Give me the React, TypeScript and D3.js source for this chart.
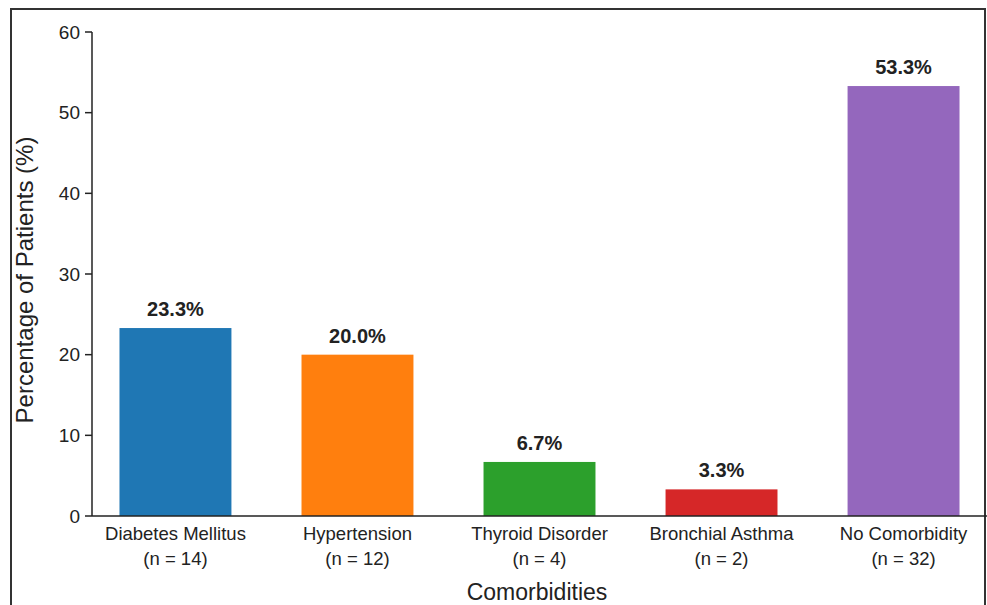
import React from "react";
import * as d3 from "d3";

const WIDTH = 987;
const HEIGHT = 605;

// chart data
const categories = ["Diabetes Mellitus", "Hypertension", "Thyroid Disorder", "Bronchial Asthma", "No Comorbidity"];
const counts = [14, 12, 4, 2, 32];
const percents = [23.3, 20.0, 6.7, 3.3, 53.3];
const colors = ["#1f77b4", "#ff7f0e", "#2ca02c", "#d62728", "#9467bd"];
const yTicks = [0, 10, 20, 30, 40, 50, 60];

const FONT = "'Liberation Sans', Arial, Helvetica, sans-serif";

export default function App() {
  const x = d3
    .scaleBand<string>()
    .domain(categories)
    .range([92, 987])
    .paddingInner(0.385)
    .paddingOuter(0.151);
  const y = d3.scaleLinear().domain([0, 60]).range([516, 32]);

  return (
    <svg
      width={WIDTH}
      height={HEIGHT}
      style={{ position: "absolute", left: 0, top: 0, background: "#fff", fontFamily: FONT }}
    >
      <path d="M11,605 V9 H985 V605" fill="none" stroke="#333" strokeWidth={2} />

      {categories.map((c, i) => {
        const cx = x(c)! + x.bandwidth() / 2;
        return (
          <g key={c}>
            <rect
              x={x(c)}
              y={y(percents[i])}
              width={x.bandwidth()}
              height={y(0) - y(percents[i])}
              fill={colors[i]}
            />
            <text x={cx} y={y(percents[i]) - 12} textAnchor="middle" fontSize={20} fontWeight="bold" fill="#222">
              {percents[i].toFixed(1)}%
            </text>
            <text x={cx} y={540} textAnchor="middle" fontSize={18.5} fill="#222">
              {c}
            </text>
            <text x={cx} y={565} textAnchor="middle" fontSize={18.5} fill="#222">
              (n = {counts[i]})
            </text>
          </g>
        );
      })}

      {/* y axis */}
      <line x1={92} x2={92} y1={y(60)} y2={y(0)} stroke="#222" strokeWidth={1.5} />
      {yTicks.map((t) => (
        <g key={t}>
          <line x1={85} x2={92} y1={y(t)} y2={y(t)} stroke="#222" strokeWidth={1.5} />
          <text x={80} y={y(t) + 6.5} textAnchor="end" fontSize={19} fill="#222">
            {t}
          </text>
        </g>
      ))}
      {/* x axis */}
      <line x1={92} x2={987} y1={y(0)} y2={y(0)} stroke="#222" strokeWidth={1.5} />

      <text x={537} y={600} textAnchor="middle" fontSize={23} fill="#222">
        Comorbidities
      </text>
      <text
        transform={`translate(33, 280) rotate(-90)`}
        textAnchor="middle"
        fontSize={24}
        fill="#222"
      >
        Percentage of Patients (%)
      </text>
    </svg>
  );
}
